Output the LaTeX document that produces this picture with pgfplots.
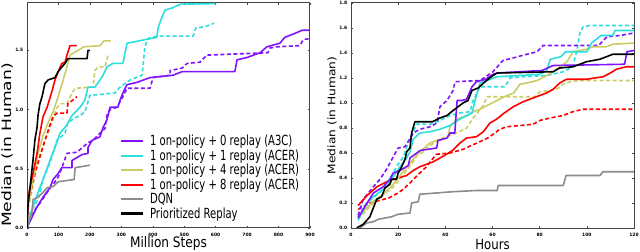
\documentclass[border=0pt]{standalone}
\usepackage{pgfplots}
\pgfplotsset{compat=1.18}
\usepackage{fontspec}
\setmainfont{DejaVu Sans}
\usepackage{graphicx}
\definecolor{cPur}{RGB}{128,20,255}
\definecolor{cCya}{RGB}{45,222,222}
\definecolor{cYel}{RGB}{204,204,102}
\definecolor{cRed}{RGB}{255,0,0}
\definecolor{cGry}{RGB}{140,140,140}
\definecolor{cFrm}{RGB}{70,70,70}
\newcommand{\legtxt}[1]{\scalebox{0.72}[1]{#1}}
\begin{document}
\begin{tikzpicture}
\useasboundingbox (0bp,0bp) rectangle (640bp,252bp);
\pgfplotsset{
 panel/.style={scale only axis, width=283bp, height=225bp, anchor=south west,
   axis line style={cFrm, line width=1bp}, tick style={cFrm, line width=0.5bp},
   major tick length=2bp, tick align=inside,
   ticklabel style={font=\fontsize{4.5}{5}\selectfont\bfseries, inner sep=0pt},
   /pgf/number format/assume math mode=true,
   xticklabel style={yshift=-4.5bp}, yticklabel style={xshift=-3.5bp},
   every axis plot/.append style={line width=1.6bp, line join=round},
   yticklabel style={/pgf/number format/.cd, fixed, fixed zerofill, precision=1}},
 dsh/.style={dash pattern=on 4bp off 2.5bp},
}
% ---------------- Left panel ----------------
\begin{axis}[panel, at={(27bp,24bp)},
  xmin=0, xmax=900, ymin=0, ymax=1.9,
  xtick={0,100,...,900}, ytick={0,0.5,1,1.5},
  xlabel={\scalebox{0.84}[1]{\fontsize{14.5}{14.5}\selectfont Million Steps}},
  xlabel style={at={(axis description cs:0.5,0)}, anchor=north, inner sep=0pt, yshift=-8.5bp},
  ylabel={\scalebox{1}[0.75]{\fontsize{17.2}{17.2}\selectfont Median (in Human)}},
  ylabel style={at={([xshift=-14bp]axis description cs:0,0.369)}, anchor=south, inner sep=0pt},
  legend style={at={(0.328,0.414)}, anchor=north west, draw=none, fill=none, inner sep=0pt,
     row sep=2.1bp, font=\fontsize{14}{14}\selectfont, nodes={inner sep=0.15bp},
     cells={anchor=west}, /tikz/every odd column/.append style={column sep=5.7bp}},
  legend image code/.code={\draw[#1, line width=2.2bp, solid] (0bp,0bp) -- (22bp,0bp);},
]
\addplot[cPur,dsh,forget plot] coordinates {(0,0) (19,0.13) (41,0.21) (64,0.30) (89,0.39) (99,0.43) (111,0.51) (127,0.63) (159,0.64) (194,0.72) (210,0.74) (232,0.80) (248,0.84) (254,0.95) (264,1.00) (286,1.02) (305,1.11) (318,1.18) (391,1.18) (401,1.27) (455,1.29) (455,1.33) (493,1.35) (509,1.39) (550,1.40) (572,1.46) (766,1.48) (773,1.52) (795,1.53) (868,1.54) (878,1.59) (900,1.60)};
\addplot[cCya,dsh,forget plot] coordinates {(0,0) (3,0.03) (10,0.13) (35,0.24) (51,0.41) (73,0.55) (95,0.74) (121,0.80) (130,0.89) (153,0.93) (169,0.95) (184,0.98) (200,1.12) (280,1.14) (296,1.19) (328,1.25) (366,1.29) (375,1.53) (385,1.60) (413,1.62) (528,1.62) (537,1.69) (566,1.70) (595,1.73)};
\addplot[cYel,dsh,forget plot] coordinates {(0,0) (3,0.15) (16,0.32) (35,0.57) (57,0.74) (80,0.89) (92,1.00) (105,1.05) (127,1.05) (143,1.14) (153,1.18) (210,1.19) (216,1.33) (226,1.36) (248,1.36) (254,1.42) (258,1.46) (264,1.46)};
\addplot[cRed,dsh,forget plot] coordinates {(0,0) (3,0.19) (16,0.36) (25,0.46) (41,0.60) (57,0.74) (73,0.87) (83,0.94) (95,0.97) (127,0.97) (130,1.05) (146,1.08) (159,1.11)};
\addplot[cPur] coordinates {(0,0) (3,0.02) (32,0.18) (51,0.26) (73,0.34) (83,0.41) (99,0.46) (111,0.51) (143,0.51) (143,0.57) (175,0.62) (194,0.63) (194,0.68) (207,0.74) (232,0.77) (242,0.85) (254,0.91) (264,1.02) (289,1.02) (296,1.08) (305,1.14) (318,1.21) (350,1.23) (391,1.27) (464,1.29) (493,1.32) (661,1.32) (668,1.42) (700,1.44) (741,1.48) (763,1.53) (804,1.56) (820,1.61) (858,1.65) (875,1.67) (900,1.67)};
\addlegendentry{\legtxt{1 on-policy + 0 replay (A3C)}}
\addplot[cCya] coordinates {(0,0) (3,0.04) (19,0.18) (35,0.30) (51,0.41) (73,0.57) (89,0.68) (105,0.80) (127,0.87) (143,0.95) (169,1.02) (184,1.08) (194,1.19) (216,1.19) (232,1.25) (242,1.29) (254,1.36) (273,1.39) (305,1.39) (318,1.56) (337,1.57) (413,1.61) (417,1.69) (429,1.78) (439,1.84) (464,1.86) (487,1.89) (600,1.895)};
\addlegendentry{\legtxt{1 on-policy + 1 replay (ACER)}}
\addplot[cYel] coordinates {(0,0) (3,0.19) (19,0.41) (35,0.63) (51,0.78) (67,0.89) (83,0.98) (99,1.11) (115,1.25) (127,1.36) (137,1.46) (156,1.49) (181,1.53) (232,1.54) (245,1.58) (267,1.58)};
\addlegendentry{\legtxt{1 on-policy + 4 replay (ACER)}}
\addplot[cRed] coordinates {(0,0) (3,0.24) (10,0.35) (19,0.46) (32,0.63) (41,0.80) (51,0.94) (64,1.02) (80,1.16) (89,1.25) (99,1.32) (111,1.39) (121,1.40) (127,1.46) (137,1.54) (159,1.54)};
\addlegendentry{\legtxt{1 on-policy + 8 replay (ACER)}}
\addplot[cGry] coordinates {(0,0) (16,0.13) (19,0.24) (35,0.26) (51,0.30) (64,0.34) (83,0.35) (99,0.39) (150,0.41) (153,0.51) (200,0.53)};
\addlegendentry{\legtxt{DQN}}
\addplot[black] coordinates {(0,0) (3,0.19) (10,0.35) (19,0.57) (25,0.74) (32,0.85) (35,0.95) (41,1.05) (48,1.11) (57,1.22) (67,1.25) (89,1.27) (99,1.32) (111,1.36) (121,1.39) (130,1.43) (191,1.43) (194,1.50) (200,1.50)};
\addlegendentry{\legtxt{Prioritized Replay}}
\end{axis}
% ---------------- Right panel ----------------
\begin{axis}[panel, at={(351bp,24bp)},
  xmin=0, xmax=120, ymin=0, ymax=1.8,
  xtick={0,20,...,120}, ytick={0,0.2,0.4,0.6,0.8,1.0,1.2,1.4,1.6,1.8},
  xlabel={\scalebox{0.84}[1]{\fontsize{14}{14}\selectfont Hours}},
  xlabel style={at={(axis description cs:0.5,0)}, anchor=north, inner sep=0pt, yshift=-11bp},
  ylabel={\scalebox{1}[0.85]{\fontsize{12.3}{12.3}\selectfont Median (in Human)}},
  ylabel style={at={([xshift=-14bp]axis description cs:0,0.5)}, anchor=south, inner sep=0pt},
]
\addplot[cGry] coordinates {(3.8,0.0) (6.6,0.04) (9.5,0.05) (11.6,0.07) (14.4,0.08) (17.2,0.09) (20,0.11) (25,0.12) (25.7,0.20) (28.5,0.21) (29.2,0.27) (36,0.28) (43,0.29) (53,0.30) (62,0.30) (62.4,0.34) (90,0.34) (91.2,0.42) (105.6,0.42) (106.8,0.45) (120,0.45)};
\addplot[cRed,dsh] coordinates {(3,0.15) (6,0.18) (8,0.20) (12,0.22) (16,0.24) (19,0.27) (22.2,0.31) (25,0.36) (27,0.40) (29.2,0.44) (32,0.49) (34,0.54) (36.3,0.59) (42,0.60) (47.6,0.63) (51,0.66) (54.6,0.69) (58,0.72) (61,0.76) (63.1,0.79) (66,0.81) (72,0.82) (77.2,0.83) (80,0.86) (84.4,0.88) (89.9,0.90) (94,0.93) (98.4,0.95) (120,0.95)};
\addplot[cYel,dsh] coordinates {(3,0.07) (6,0.13) (10,0.21) (14,0.27) (18,0.33) (22,0.42) (26,0.52) (28,0.58) (30,0.60) (33.5,0.66) (37.7,0.71) (42,0.74) (46,0.77) (49,0.80) (51.8,0.88) (54,0.93) (56,0.98) (57.7,1.05) (70,1.05) (78,1.05) (80,1.09) (85,1.10) (88,1.12) (90,1.15) (93,1.17) (97,1.18) (120,1.18)};
\addplot[cCya,dsh] coordinates {(3,0.09) (6.6,0.20) (10,0.25) (13.7,0.31) (16.5,0.39) (19.3,0.49) (22.2,0.57) (23.6,0.65) (26.4,0.77) (27.8,0.83) (33.5,0.83) (37.7,0.86) (42,0.90) (46,0.92) (50.4,0.93) (51.8,1.02) (54.7,1.13) (65.3,1.13) (67.4,1.20) (72.9,1.21) (83,1.22) (90,1.25) (94,1.29) (95.8,1.42) (97,1.56) (98.4,1.61) (101.3,1.62) (120,1.62)};
\addplot[cPur,dsh] coordinates {(3,0.10) (5.2,0.23) (9.5,0.33) (12.3,0.39) (15.1,0.47) (17.9,0.57) (20,0.64) (22.9,0.65) (26.4,0.76) (29.2,0.79) (33.5,0.81) (36.5,0.84) (37.7,0.97) (40.7,1.02) (43.3,1.10) (44.1,1.17) (54.7,1.18) (60.2,1.25) (64.4,1.34) (68.7,1.36) (72.5,1.38) (78.9,1.41) (81.4,1.46) (105,1.46) (108.5,1.53) (114,1.54) (120,1.56)};
\addplot[cRed] coordinates {(3,0.18) (6.8,0.26) (11,0.33) (15.2,0.37) (17.9,0.39) (20,0.40) (23.6,0.42) (26.4,0.46) (29.2,0.49) (34.9,0.53) (37.7,0.56) (40.5,0.59) (43,0.62) (46.2,0.68) (49,0.72) (53.2,0.73) (56.1,0.77) (58.9,0.84) (61.7,0.87) (65,0.92) (68.8,0.97) (73,1.01) (78.6,1.05) (82.9,1.08) (85.7,1.11) (88.5,1.16) (91.4,1.19) (99.8,1.19) (106.9,1.21) (110,1.24) (112.5,1.27) (116.8,1.29) (120,1.29)};
\addplot[cYel] coordinates {(3,0.08) (6,0.15) (10,0.22) (14,0.28) (17,0.33) (20,0.40) (23,0.47) (26.4,0.55) (29.2,0.61) (33.5,0.68) (37.7,0.71) (41,0.72) (42,0.81) (44.8,0.87) (49.2,0.90) (51.8,0.93) (54.7,0.95) (57.7,0.98) (61.9,1.02) (66.1,1.06) (69,1.08) (71.6,1.15) (74.6,1.16) (78.9,1.18) (83,1.22) (85.7,1.25) (88.5,1.29) (91.6,1.33) (94.2,1.41) (99.8,1.43) (102.6,1.45) (108.3,1.45) (111,1.47) (120,1.48)};
\addplot[cCya] coordinates {(3,0.06) (5.2,0.15) (8,0.23) (10.9,0.27) (15.1,0.33) (17.9,0.41) (20.8,0.49) (23.6,0.56) (25,0.61) (26.4,0.71) (29.2,0.76) (33.5,0.77) (37.7,0.79) (42,0.82) (46,0.87) (49.2,0.90) (51.3,0.92) (53,1.05) (54.7,1.16) (57.7,1.18) (61.9,1.21) (71.6,1.22) (80,1.23) (83,1.26) (84.5,1.35) (89,1.37) (91,1.41) (100,1.41) (102,1.48) (106,1.54) (111,1.54) (112,1.58) (120,1.58)};
\addplot[cPur] coordinates {(3,0.08) (5.2,0.15) (9.5,0.28) (13.7,0.33) (16.5,0.39) (17.9,0.44) (20.8,0.46) (24.3,0.50) (25,0.56) (27.9,0.60) (29.3,0.62) (36.3,0.64) (36.9,0.70) (40.7,0.72) (42,0.76) (44,0.76) (45,1.02) (47,1.02) (49,1.03) (51.3,1.13) (53.2,1.17) (57,1.19) (60.3,1.23) (62,1.24) (81,1.26) (85.7,1.30) (116,1.31) (117,1.41) (120,1.42)};
\addplot[black] coordinates {(2.4,0) (5.2,0.03) (8,0.09) (10.9,0.23) (13,0.25) (14.4,0.32) (16.5,0.35) (17.2,0.39) (19.3,0.39) (20,0.44) (21.5,0.49) (22.9,0.55) (23.6,0.61) (25,0.64) (25.7,0.76) (27.1,0.85) (34.5,0.85) (37.7,0.88) (40.7,0.90) (43.3,0.94) (45.4,0.97) (47.5,1.00) (49.6,1.02) (51.3,1.10) (53.9,1.12) (56.8,1.17) (60.2,1.22) (62,1.24) (85.7,1.25) (88.5,1.28) (94.2,1.29) (97,1.31) (99.8,1.33) (105.5,1.35) (108.3,1.37) (111,1.39) (120,1.39)};
\end{axis}
\end{tikzpicture}
\end{document}
